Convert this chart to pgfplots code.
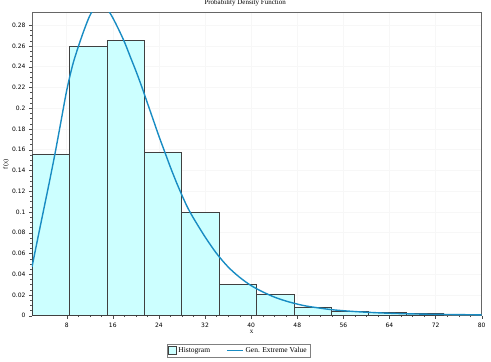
\documentclass[border=0pt]{standalone}
\usepackage{fontspec}
\setmainfont{Liberation Serif}
\newfontfamily\tickfont{DejaVu Sans}
\usepackage{pgfplots}
\pgfplotsset{compat=1.18}
\definecolor{barfill}{RGB}{204,255,255}
\definecolor{curve}{RGB}{25,140,195}
\begin{document}
\begin{tikzpicture}
\begin{axis}[
  scale only axis,
  width=449.7pt, height=303pt,
  at={(0,0)}, anchor=south west,
  xmin=1.98, xmax=80, ymin=0, ymax=0.292,
  xtick={8,16,24,32,40,48,56,64,72,80},
  ytick={0,0.02,0.04,0.06,0.08,0.1,0.12,0.14,0.16,0.18,0.2,0.22,0.24,0.26,0.28},
  yticklabel style={/pgf/number format/fixed, /pgf/number format/precision=2},
  minor x tick num=3, minor y tick num=3,
  tick pos=left, tick align=outside,
  major tick length=3pt, minor tick length=1.5pt,
  tick style={black!70},
  axis line style={black!60},
  grid=major, major grid style={gray!6},
  /pgf/number format/assume math mode=true,
  tick label style={font=\tickfont\fontsize{6}{7}\selectfont},
  xticklabel style={yshift=-0.5pt},
  title={Probability Density Function},
  title style={font=\fontsize{7}{8}\selectfont, at={(axis description cs:0.474,1)}, anchor=south, inner sep=0.5pt},
  xlabel={x}, xlabel style={font=\fontsize{7}{8}\selectfont, at={(axis description cs:0.4886,-0.054)}, anchor=center},
  ylabel={f(x)}, ylabel style={font=\fontsize{6.5}{7}\selectfont, at={(axis description cs:-0.066,0.50)}, anchor=north, inner sep=0.5pt},
  legend columns=2,
  legend style={at={(0.459,-0.1155)}, anchor=center, font=\fontsize{7.5}{8}\selectfont, draw=black!50, inner sep=1pt, row sep=0pt, /tikz/every even column/.append style={column sep=14pt}},
]
\addplot[ybar interval, fill=barfill, draw=black!75,
  legend image code/.code={\draw[fill=barfill, draw=black!75] (0pt,-3.5pt) rectangle (8pt,4pt);}] coordinates {
(1.98,0.156) (8.47,0.2595) (14.96,0.2653) (21.44,0.1574) (27.93,0.0996) (34.42,0.0302)
(40.91,0.0206) (47.40,0.0084) (53.88,0.0045) (60.37,0.0029) (66.86,0.0023) (73.35,0.0023)
};
\addlegendentry{Histogram}
\addplot[smooth, curve, line width=1.4pt, mark=none,
  legend image code/.code={\draw[curve, line width=1.4pt] (0pt,0pt) -- (16pt,0pt);}] coordinates {
(1.98,0.047) (3,0.075) (4,0.102) (5,0.129) (6,0.157) (7,0.187) (8,0.217) (9,0.241)
(10,0.259) (11,0.275) (12,0.289) (13,0.298) (14,0.301) (15,0.296) (16,0.287) (17,0.276)
(18,0.264) (19,0.250) (20,0.236) (21,0.221) (22,0.205) (23,0.189) (24,0.173) (25,0.158)
(26,0.143) (27,0.129) (28,0.116) (29,0.104) (30,0.094) (32,0.076) (34,0.060) (36,0.047)
(38,0.037) (40,0.029) (42,0.023) (44,0.018) (46,0.0142) (48,0.0112) (50,0.0089) (54,0.0058)
(58,0.0040) (62,0.0028) (66,0.0020) (70,0.0015) (75,0.0011) (80,0.0008)
};
\addlegendentry{Gen. Extreme Value}
\end{axis}
\pgfresetboundingbox
\useasboundingbox (-32pt,-46.3pt) rectangle (459pt,315.7pt);
\end{tikzpicture}
\end{document}
